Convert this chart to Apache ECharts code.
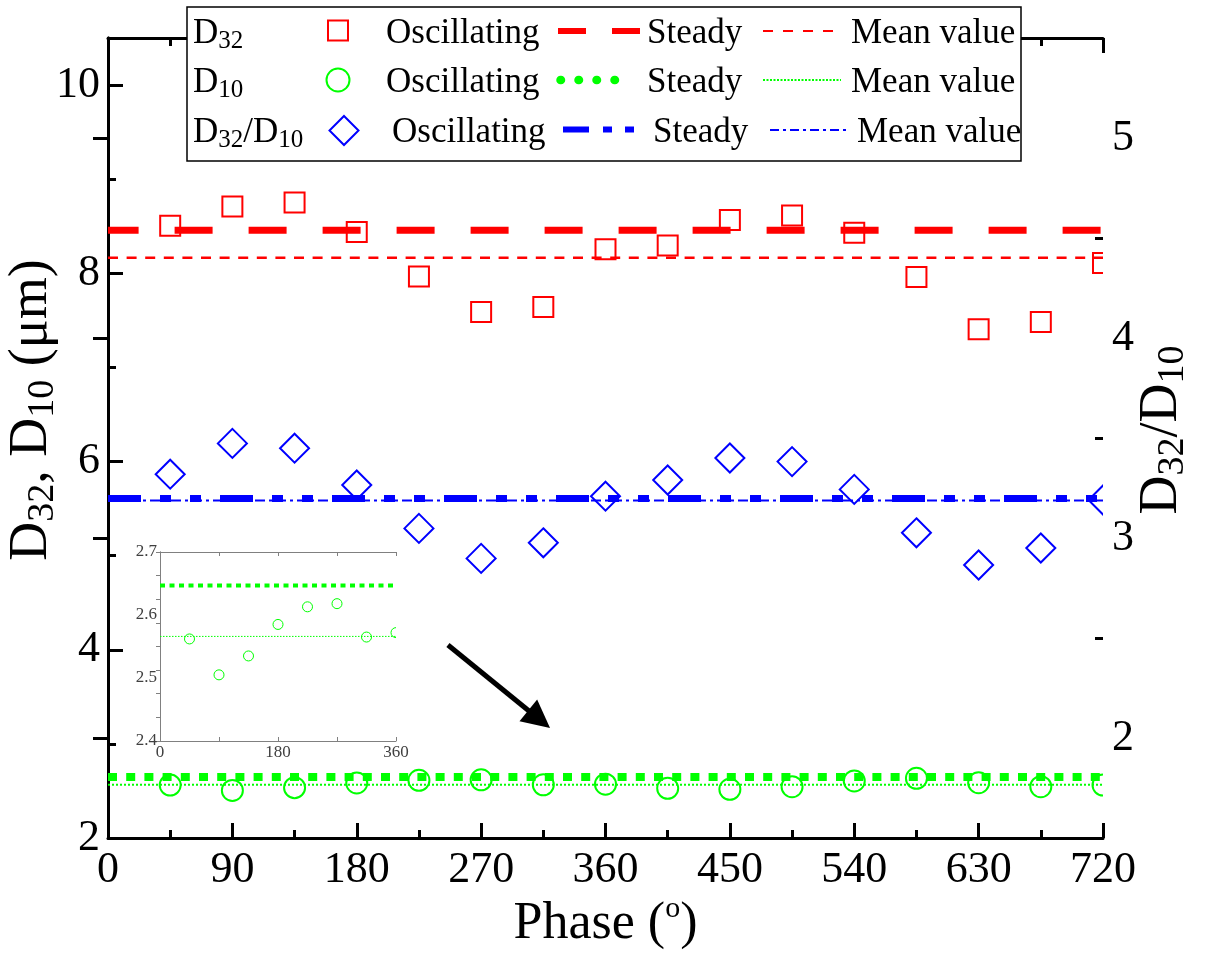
<!DOCTYPE html>
<html>
<head>
<meta charset="utf-8">
<script src="https://cdn.jsdelivr.net/npm/echarts@6/dist/echarts.min.js"></script>
<style>
  html, body { margin: 0; padding: 0; background: #fff; }
  #chart { width: 1208px; height: 955px; }
</style>
</head>
<body>
<div id="chart"></div>
<script>
// ---- data ----
const phase = [45, 90, 135, 180, 225, 270, 315, 360, 405, 450, 495, 540, 585, 630, 675, 720];
const d32Osc = [8.506, 8.709, 8.751, 8.438, 7.965, 7.59, 7.643, 8.256, 8.296, 8.567, 8.615, 8.43, 7.96, 7.406, 7.482, 8.11];
const d10Osc = [2.562, 2.505, 2.535, 2.585, 2.613, 2.618, 2.565, 2.572, 2.528, 2.517, 2.545, 2.606, 2.634, 2.588, 2.545, 2.563];
const ratioOsc = [3.319, 3.473, 3.449, 3.265, 3.048, 2.898, 2.976, 3.209, 3.29, 3.40, 3.382, 3.243, 3.026, 2.865, 2.95, 3.19];
const d32Steady = 8.457, d32Mean = 8.166;
const d10Steady = 2.647, d10Mean = 2.566;
const ratioSteady = 3.197, ratioMean = 3.187;
const leftTickValues = [2, 4, 6, 8, 10];
const leftMinorValues = [3, 5, 7, 9];
const rightTickValues = [2, 3, 4, 5];
const rightMinorValues = [2.5, 3.5, 4.5];
const arrowFrom = [246, 4.05];
const arrowTo = [312, 3.262];

// ---- styling helpers ----
const SERIF = 'Liberation Serif';
const RED = '#ff0000', GREEN = '#00ff00', BLUE = '#0000ff';

function pairs(xs, ys) { return xs.map((x, i) => [x, ys[i]]); }

function hLine(name, v, xi, yi, xMax, color, width, dash, offset, z) {
  return {
    name, type: 'line', xAxisIndex: xi, yAxisIndex: yi,
    data: [[0, v], [xMax, v]], symbol: 'none', silent: true, z: z || 2,
    animation: false,
    lineStyle: { color, width, type: dash, dashOffset: offset || 0, cap: 'butt' }
  };
}

// hollow markers drawn through the axes' scales, clipped to the plot area
function markers(name, data, xi, yi, shape, size, color, lw) {
  return {
    name, type: 'custom', xAxisIndex: xi, yAxisIndex: yi, clip: true, z: 3,
    silent: true, animation: false,
    data, encode: { x: 0, y: 1 },
    renderItem(params, api) {
      const p = api.coord([api.value(0), api.value(1)]);
      const h = size / 2;
      const style = { fill: 'none', stroke: color, lineWidth: lw };
      if (shape === 'rect') {
        return { type: 'rect', shape: { x: p[0] - h, y: p[1] - h, width: size, height: size }, style };
      }
      if (shape === 'circle') {
        return { type: 'circle', shape: { cx: p[0], cy: p[1], r: h }, style };
      }
      return {
        type: 'polygon',
        shape: { points: [[p[0], p[1] - h], [p[0] + h, p[1]], [p[0], p[1] + h], [p[0] - h, p[1]]] },
        style
      };
    }
  };
}

const blackLine = { lineStyle: { color: '#000', width: 3 } };
const tickMain = { inside: true, length: 15, lineStyle: { color: '#000', width: 3 } };
const tickMinor = { inside: true, length: 8, lineStyle: { color: '#000', width: 3 } };
const labelMain = { fontFamily: SERIF, fontSize: 44, color: '#000' };

const titleRich = {
  d: { fontFamily: SERIF, fontSize: 54, lineHeight: 60, color: '#000' },
  s: { fontFamily: SERIF, fontSize: 38, lineHeight: 22, verticalAlign: 'bottom', color: '#000' },
  t: { fontFamily: SERIF, fontSize: 52, lineHeight: 60, color: '#000' },
  u: { fontFamily: SERIF, fontSize: 30, lineHeight: 39, verticalAlign: 'top', color: '#000' }
};

const insetLine = { lineStyle: { color: '#808080', width: 1 } };
const insetTick = { inside: true, length: 4, lineStyle: { color: '#808080', width: 1 } };
const insetLabel = { fontFamily: SERIF, fontSize: 17, color: '#404040' };

// ---- legend block (graphic) ----
const legRich = {
  d: { fontFamily: SERIF, fontSize: 35, lineHeight: 40, fill: '#000' },
  s: { fontFamily: SERIF, fontSize: 25, lineHeight: 15, verticalAlign: 'bottom', fill: '#000' }
};
const LZ = 100;
const rowTop = [14.3, 63.3, 113.3];
function legText(text, x, y) {
  return { type: 'text', z: LZ + 2, x, y, style: { text, verticalAlign: 'top', align: 'left', rich: legRich } };
}
function legLine(x1, x2, y, color, width, dash, cap) {
  return {
    type: 'line', z: LZ + 1, shape: { x1, y1: y, x2, y2: y },
    style: { stroke: color, lineWidth: width, lineDash: dash, lineCap: cap || 'butt' }
  };
}
const legendElements = [
  { type: 'rect', z: LZ, shape: { x: 187, y: 7, width: 834, height: 154 },
    style: { fill: '#fff', stroke: '#000', lineWidth: 1.5 } },
  legText('{d|D}{s|32}', 193, rowTop[0]),
  legText('{d|D}{s|10}', 193, rowTop[1]),
  legText('{d|D}{s|32}{d|/D}{s|10}', 193, rowTop[2]),
  { type: 'rect', z: LZ + 1, shape: { x: 328, y: 20.5, width: 20, height: 20 },
    style: { fill: 'none', stroke: RED, lineWidth: 2 } },
  { type: 'circle', z: LZ + 1, shape: { cx: 338, cy: 80, r: 11.5 },
    style: { fill: 'none', stroke: GREEN, lineWidth: 2 } },
  { type: 'polygon', z: LZ + 1, shape: { points: [[344, 116], [358.5, 130.5], [344, 145], [329.5, 130.5]] },
    style: { fill: 'none', stroke: BLUE, lineWidth: 2 } },
  legText('{d|Oscillating}', 386, rowTop[0]),
  legText('{d|Oscillating}', 386, rowTop[1]),
  legText('{d|Oscillating}', 392, rowTop[2]),
  legLine(558, 640, 31, RED, 6, [28, 26]),
  legLine(560.5, 632.5, 80, GREEN, 8.5, [0.5, 17.5], 'round'),
  legLine(563, 634, 129.5, BLUE, 6, [26, 14, 9, 13, 9, 100]),
  legText('{d|Steady}', 647, rowTop[0]),
  legText('{d|Steady}', 647, rowTop[1]),
  legText('{d|Steady}', 653, rowTop[2]),
  legLine(763, 834, 31, RED, 2, [10, 10]),
  legLine(763, 841, 80, GREEN, 2, [2, 1.5]),
  legLine(770, 846, 130, BLUE, 2, [9, 4, 3, 4]),
  legText('{d|Mean value}', 851, rowTop[0]),
  legText('{d|Mean value}', 851, rowTop[1]),
  legText('{d|Mean value}', 857, rowTop[2])
];

const chart = echarts.init(document.getElementById('chart'), null, { renderer: 'canvas' });

const d10Steady3 = hLine('D10 steady', d10Steady, 0, 0, 720, GREEN, 8, [9, 9.2]);
d10Steady3.markLine = {
  silent: true, animation: false,
  symbol: ['none', 'triangle'], symbolSize: [28, 28],
  label: { show: false },
  lineStyle: { color: '#000', width: 5, type: 'solid' },
  emphasis: { disabled: true },
  data: [[{ coord: arrowFrom }, { coord: arrowTo }]]
};

const option = {
  animation: false,
  backgroundColor: '#fff',
  grid: [
    { left: 108, right: 105, top: 38, bottom: 117, outerBoundsMode: 'none' },
    { left: 160, top: 552, width: 236, height: 189, show: true, backgroundColor: '#fff',
      borderWidth: 0, outerBoundsMode: 'none' }
  ],
  xAxis: [
    { gridIndex: 0, type: 'value', position: 'bottom', min: 0, max: 720, interval: 90,
      axisLine: blackLine, axisTick: tickMain,
      minorTick: { show: true, splitNumber: 2, length: 8, lineStyle: { color: '#000', width: 3 } },
      axisLabel: Object.assign({ margin: 10 }, labelMain),
      splitLine: { show: false }, minorSplitLine: { show: false },
      name: '{t|Phase (}{u|o}{t|)}', nameLocation: 'middle', nameGap: 56, nameMoveOverlap: false,
      nameTextStyle: { rich: titleRich } },
    { gridIndex: 0, type: 'value', position: 'top', min: 0, max: 720, interval: 90,
      axisLine: blackLine, axisTick: tickMain,
      minorTick: { show: true, splitNumber: 2, length: 8, lineStyle: { color: '#000', width: 3 } },
      axisLabel: { show: false }, splitLine: { show: false } },
    { gridIndex: 1, type: 'value', position: 'bottom', min: 0, max: 360, interval: 90,
      axisLine: insetLine, axisTick: insetTick,
      axisLabel: Object.assign({ margin: 3, formatter: v => (v % 180 === 0 ? String(v) : '') }, insetLabel),
      splitLine: { show: false } },
    { gridIndex: 1, type: 'value', position: 'top', min: 0, max: 360, interval: 90,
      axisLine: insetLine, axisTick: insetTick, axisLabel: { show: false }, splitLine: { show: false } }
  ],
  yAxis: [
    { gridIndex: 0, type: 'value', position: 'left', min: 2, max: 10.5, interval: 1,
      axisLine: blackLine,
      axisTick: Object.assign({ customValues: leftTickValues }, tickMain),
      axisLabel: Object.assign({ margin: 8, customValues: leftTickValues }, labelMain),
      splitLine: { show: false },
      name: '{d|D}{s|32}{d|, D}{s|10}{d| (μm)}', nameLocation: 'middle', nameGap: 46, nameRotate: 90,
      nameMoveOverlap: false,
      nameTextStyle: { rich: titleRich, padding: [0, 0, 0, 56] } },
    { gridIndex: 0, type: 'value', position: 'right', min: 1.5, max: 5.5, interval: 0.5,
      axisLine: blackLine,
      axisTick: Object.assign({ customValues: rightTickValues }, tickMain),
      axisLabel: Object.assign({ margin: 9, customValues: rightTickValues }, labelMain),
      splitLine: { show: false },
      name: '{d|D}{s|32}{d|/D}{s|10}', nameLocation: 'middle', nameGap: 29, nameRotate: 90,
      nameMoveOverlap: false,
      nameTextStyle: { rich: titleRich, padding: [0, 0, 0, 16] } },
    { gridIndex: 0, type: 'value', position: 'left', min: 2, max: 10.5, interval: 1,
      axisLine: { show: false },
      axisTick: Object.assign({ customValues: leftMinorValues }, tickMinor),
      axisLabel: { show: false }, splitLine: { show: false } },
    { gridIndex: 0, type: 'value', position: 'right', min: 1.5, max: 5.5, interval: 0.5,
      axisLine: { show: false },
      axisTick: Object.assign({ customValues: rightMinorValues }, tickMinor),
      axisLabel: { show: false }, splitLine: { show: false } },
    { gridIndex: 1, type: 'value', position: 'left', min: 2.4, max: 2.7, interval: 0.1,
      axisLine: insetLine, axisTick: { show: false },
      axisLabel: Object.assign({ margin: 3, formatter: v => v.toFixed(1) }, insetLabel),
      splitLine: { show: false } },
    { gridIndex: 1, type: 'value', position: 'right', min: 2.4, max: 2.7, interval: 0.0375,
      axisLine: insetLine, axisTick: insetTick, axisLabel: { show: false }, splitLine: { show: false } }
  ],
  series: [
    hLine('D32 steady', d32Steady, 0, 0, 720, RED, 7, [38, 36], 7.4),
    hLine('D32 mean', d32Mean, 0, 0, 720, RED, 2.5, [10, 8.6]),
    d10Steady3,
    hLine('D10 mean', d10Mean, 0, 0, 720, GREEN, 2, [2, 2]),
    hLine('D32/D10 steady', ratioSteady, 0, 1, 720, BLUE, 7, [33, 19, 11, 19, 11, 19]),
    hLine('D32/D10 mean', ratioMean, 0, 1, 720, BLUE, 2, [10, 4, 3, 4]),
    markers('D32 oscillating', pairs(phase, d32Osc), 0, 0, 'rect', 20, RED, 2),
    markers('D10 oscillating', pairs(phase, d10Osc), 0, 0, 'circle', 21, GREEN, 2),
    markers('D32/D10 oscillating', pairs(phase, ratioOsc), 0, 1, 'diamond', 29, BLUE, 2),
    // inset: D10 over the first cycle
    hLine('D10 steady (inset)', d10Steady, 2, 4, 360, GREEN, 4, [5, 4.5]),
    hLine('D10 mean (inset)', d10Mean, 2, 4, 360, GREEN, 1, [1.5, 1.5]),
    markers('D10 oscillating (inset)', pairs(phase, d10Osc), 2, 4, 'circle', 10, GREEN, 1)
  ],
  graphic: { elements: [{ type: 'group', z: LZ, children: legendElements }] }
};

chart.setOption(option);
</script>
</body>
</html>
